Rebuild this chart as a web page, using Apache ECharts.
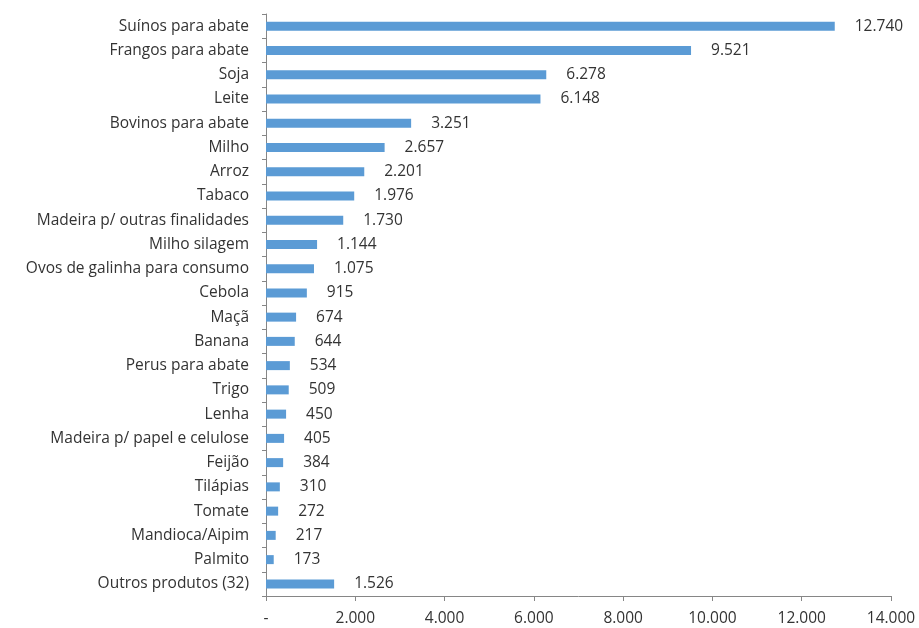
<!DOCTYPE html>
<html>
<head>
<meta charset="utf-8">
<script src="https://cdn.jsdelivr.net/npm/echarts@6/dist/echarts.min.js"></script>
<style>
  html, body { margin: 0; padding: 0; background: #fff; }
  #chart { width: 919px; height: 628px; }
</style>
</head>
<body>
<div id="chart"></div>
<script>
const categories = ['Suínos para abate', 'Frangos para abate', 'Soja', 'Leite', 'Bovinos para abate',
  'Milho', 'Arroz', 'Tabaco', 'Madeira p/ outras finalidades', 'Milho silagem',
  'Ovos de galinha para consumo', 'Cebola', 'Maçã', 'Banana', 'Perus para abate', 'Trigo',
  'Lenha', 'Madeira p/ papel e celulose', 'Feijão', 'Tilápias', 'Tomate', 'Mandioca/Aipim',
  'Palmito', 'Outros produtos (32)']
const values = [12740, 9521, 6278, 6148, 3251, 2657, 2201, 1976, 1730, 1144, 1075, 915, 674,
  644, 534, 509, 450, 405, 384, 310, 272, 217, 173, 1526]
const xTicks = [0, 2000, 4000, 6000, 8000, 10000, 12000, 14000]

function fmt(v) {
  if (v === 0) return '-'
  return String(v).replace(/\B(?=(\d{3})+(?!\d))/g, '.')
}

const textColor = '#333333'
const axisColor = '#868686'
const font = 'Open Sans'

let myChart = echarts.init(document.getElementById('chart'))

let option = {
  animation: false,
  grid: { left: 266, right: 28, top: 14, bottom: 32, containLabel: false },
  xAxis: {
    type: 'value',
    min: xTicks[0],
    max: xTicks[xTicks.length - 1],
    interval: 2000,
    splitLine: { show: false },
    axisLine: { show: true, lineStyle: { color: axisColor } },
    axisTick: { show: true, length: 5, lineStyle: { color: axisColor } },
    axisLabel: { color: textColor, fontFamily: font, fontSize: 15.5, margin: 15, formatter: fmt }
  },
  yAxis: {
    type: 'category',
    inverse: true,
    data: categories,
    axisLine: { show: true, lineStyle: { color: axisColor } },
    axisTick: { show: true, length: 4, lineStyle: { color: axisColor } },
    axisLabel: { color: textColor, fontFamily: font, fontSize: 15.5, margin: 17 }
  },
  series: [
    {
      type: 'bar',
      data: values,
      barWidth: 9,
      itemStyle: { color: '#5B9BD5' },
      label: {
        show: true,
        position: 'right',
        distance: 20,
        color: textColor,
        fontFamily: font,
        fontSize: 15.5,
        formatter: p => fmt(p.value)
      }
    }
  ]
}

myChart.setOption(option)
</script>
</body>
</html>
